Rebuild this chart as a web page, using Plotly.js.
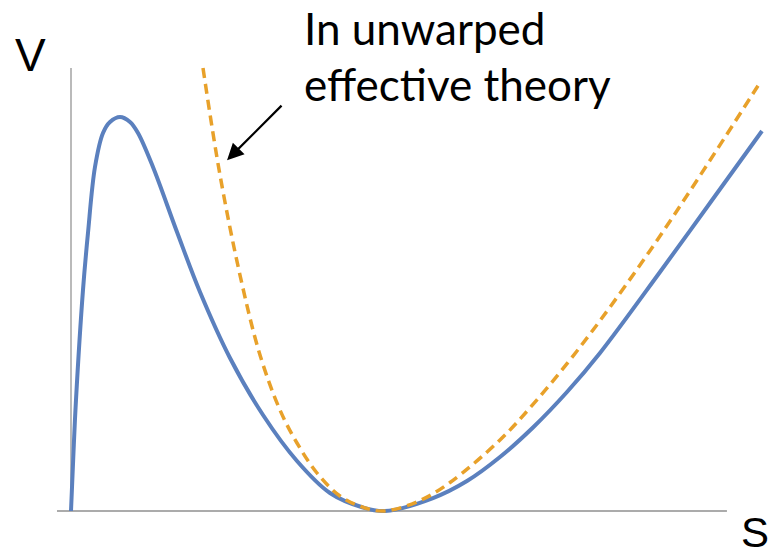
<!DOCTYPE html>
<html>
<head>
<meta charset="utf-8">
<script src="https://cdn.plot.ly/plotly-3.0.1.min.js"></script>
<style>
  html, body { margin: 0; padding: 0; background: #fff; }
  #chart { width: 772px; height: 558px; }
</style>
</head>
<body>
<div id="chart"></div>
<script>
// Full potential V(S): rises from the origin, peaks, then falls into the minimum
const fullS = [0, 0.073, 0.159, 0.382, 0.541, 0.764, 1.019, 1.242, 1.561, 1.879, 2.134, 2.611, 3.376, 4.108, 5.064, 6.115, 7.197, 8.248, 9.299, 10.0, 11.529, 12.611, 13.662, 14.713, 15.796, 16.847, 18.758, 20.350, 22.006];
const fullV = [0, 12.19, 25.06, 49.89, 62.75, 77.65, 85.33, 87.81, 88.94, 87.81, 85.33, 77.65, 62.98, 49.44, 34.54, 21.67, 11.29, 4.06, 0.79, 0, 2.93, 6.77, 12.19, 18.85, 26.86, 35.67, 53.95, 69.53, 85.78];

// Unwarped effective-theory potential (dashed)
const effS = [4.204, 4.745, 5.382, 6.019, 6.656, 7.197, 7.834, 8.567, 9.363, 10.0, 11.115, 12.070, 13.662, 14.713, 15.796, 16.847, 18.439, 20.032, 21.879];
const effV = [100, 75.85, 53.27, 35.21, 22.80, 15.35, 8.58, 3.39, 0.68, 0, 2.37, 6.43, 16.03, 24.06, 33.27, 42.96, 58.76, 75.69, 95.98];

const axisLabelX = 'S';
const axisLabelY = 'V';
const noteLines = ['In unwarped', 'effective theory'];

const traces = [
  {
    x: fullS, y: fullV, type: 'scatter', mode: 'lines',
    line: { color: '#5b80be', width: 4, shape: 'spline', smoothing: 1.0 },
    hoverinfo: 'skip'
  },
  {
    x: effS, y: effV, type: 'scatter', mode: 'lines',
    line: { color: '#e8a12a', width: 3.5, dash: '10px,6px', shape: 'spline', smoothing: 1.0 },
    hoverinfo: 'skip'
  }
];

const layout = {
  width: 772, height: 558,
  margin: { l: 0, r: 0, t: 0, b: 0 },
  paper_bgcolor: '#ffffff', plot_bgcolor: '#ffffff',
  showlegend: false,
  xaxis: { range: [-2.261, 22.325], visible: false, fixedrange: true },
  yaxis: { range: [-10.61, 115.35], visible: false, fixedrange: true },
  shapes: [
    { type: 'line', xref: 'x', yref: 'y', x0: 0, x1: 0, y0: 0, y1: 100,
      line: { color: '#8c8c8c', width: 1.2 }, layer: 'below' },
    { type: 'line', xref: 'x', yref: 'y', x0: -0.446, x1: 20.89, y0: 0, y1: 0,
      line: { color: '#ababab', width: 2.2 }, layer: 'below' }
  ],
  annotations: [
    { xref: 'paper', yref: 'paper', x: 31 / 772, y: 1 - 55 / 558, xanchor: 'center', yanchor: 'middle',
      text: axisLabelY, showarrow: false,
      font: { family: 'Liberation Sans, Arial, sans-serif', size: 46, color: '#000' } },
    { xref: 'paper', yref: 'paper', x: 755 / 772, y: 1 - 532 / 558, xanchor: 'center', yanchor: 'middle',
      text: axisLabelX, showarrow: false,
      font: { family: 'Liberation Sans, Arial, sans-serif', size: 42, color: '#000' } },
    { xref: 'paper', yref: 'paper', x: 302 / 772, y: 1 - 28 / 558, xanchor: 'left', yanchor: 'middle',
      text: noteLines[0], showarrow: false,
      font: { family: 'Lato, sans-serif', size: 44, color: '#000' } },
    { xref: 'paper', yref: 'paper', x: 302 / 772, y: 1 - 84 / 558, xanchor: 'left', yanchor: 'middle',
      text: noteLines[1], showarrow: false,
      font: { family: 'Lato, sans-serif', size: 44, color: '#000' } },
    { xref: 'x', yref: 'y', x: 4.97, y: 79.2, ax: 56, ay: -56, text: '',
      showarrow: true, arrowhead: 2, arrowsize: 1.5, arrowwidth: 2.2, arrowcolor: '#000' }
  ]
};

Plotly.newPlot('chart', traces, layout, { displayModeBar: false, staticPlot: true });
</script>
</body>
</html>
